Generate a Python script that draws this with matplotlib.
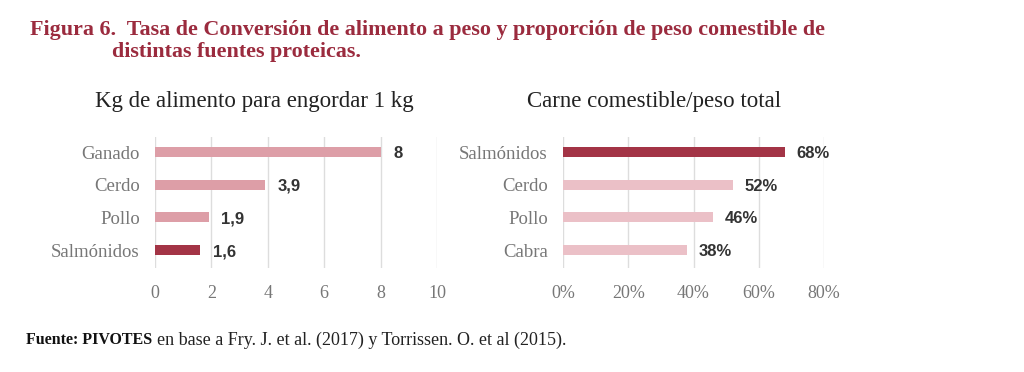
import matplotlib.pyplot as plt

# datos
conv_labels = ["Ganado", "Cerdo", "Pollo", "Salmónidos"]
conv_values = [8, 3.9, 1.9, 1.6]
conv_text = ["8", "3,9", "1,9", "1,6"]

carne_labels = ["Salmónidos", "Cerdo", "Pollo", "Cabra"]
carne_values = [0.68, 0.52, 0.46, 0.38]
carne_text = ["68%", "52%", "46%", "38%"]

dark = "#a33446"
pink = "#dd9ea7"
light = "#ebc0c7"
red_title = "#9b2b3e"
grey = "#777777"

serif = "Liberation Serif"
sans = "Liberation Sans"

fig = plt.figure(figsize=(10.24, 3.72), dpi=100)

def panel(ax, labels, values, texts, colors, xmax, ticks, ticklabels, off):
    pos = list(range(len(labels)))
    ax.barh(pos, values, height=0.3, color=colors, zorder=3)
    ax.set_ylim(3.55, -0.46)
    ax.set_xlim(0, xmax)
    ax.set_yticks(pos)
    ax.set_yticklabels(labels, fontfamily=serif, fontsize=13.5, color=grey)
    ax.set_xticks(ticks)
    ax.set_xticklabels(ticklabels, fontfamily=serif, fontsize=13, color=grey)
    ax.tick_params(length=0, axis="x", pad=12)
    ax.tick_params(length=0, axis="y", pad=11)
    ax.grid(axis="x", color="#dddddd", linewidth=1, zorder=0)
    for s in ax.spines.values():
        s.set_visible(False)
    for p, v, t in zip(pos, values, texts):
        ax.text(v + off, p, t, va="center_baseline", ha="left", fontfamily=sans,
                fontsize=12, fontweight="bold", color="#333333")

ax1 = fig.add_axes([155 / 1024, 1 - 268 / 372, 282 / 1024, 131 / 372])
panel(ax1, conv_labels, conv_values, conv_text,
      [pink, pink, pink, dark], 10, [0, 2, 4, 6, 8, 10],
      ["0", "2", "4", "6", "8", "10"], 0.45)

ax2 = fig.add_axes([563 / 1024, 1 - 268 / 372, 261 / 1024, 131 / 372])
panel(ax2, carne_labels, carne_values, carne_text,
      [dark, light, light, light], 0.8, [0, 0.2, 0.4, 0.6, 0.8],
      ["0%", "20%", "40%", "60%", "80%"], 0.035)

fig.text(254 / 1024, 1 - 101 / 372, "Kg de alimento para engordar 1 kg",
         fontfamily=serif, fontsize=16.5, color="#222222", ha="center", va="center")
fig.text(654 / 1024, 1 - 101 / 372, "Carne comestible/peso total",
         fontfamily=serif, fontsize=16.5, color="#222222", ha="center", va="center")

fig.text(30 / 1024, 1 - 30 / 372, "Figura 6.  Tasa de Conversión de alimento a peso y proporción de peso comestible de",
         fontfamily=serif, fontsize=15.8, fontweight="bold", color=red_title, va="center")
fig.text(112 / 1024, 1 - 52 / 372, "distintas fuentes proteicas.",
         fontfamily=serif, fontsize=15.8, fontweight="bold", color=red_title, va="center")

fig.text(26 / 1024, 1 - 340 / 372, "Fuente: PIVOTES", fontfamily=serif, fontsize=11.5,
         fontweight="bold", color="#111111", va="center")
fig.text(157 / 1024, 1 - 340 / 372, "en base a Fry. J. et al. (2017) y Torrissen. O. et al (2015).",
         fontfamily=serif, fontsize=13, color="#222222", va="center")

fig.savefig("out.png", dpi=100, facecolor="white")
